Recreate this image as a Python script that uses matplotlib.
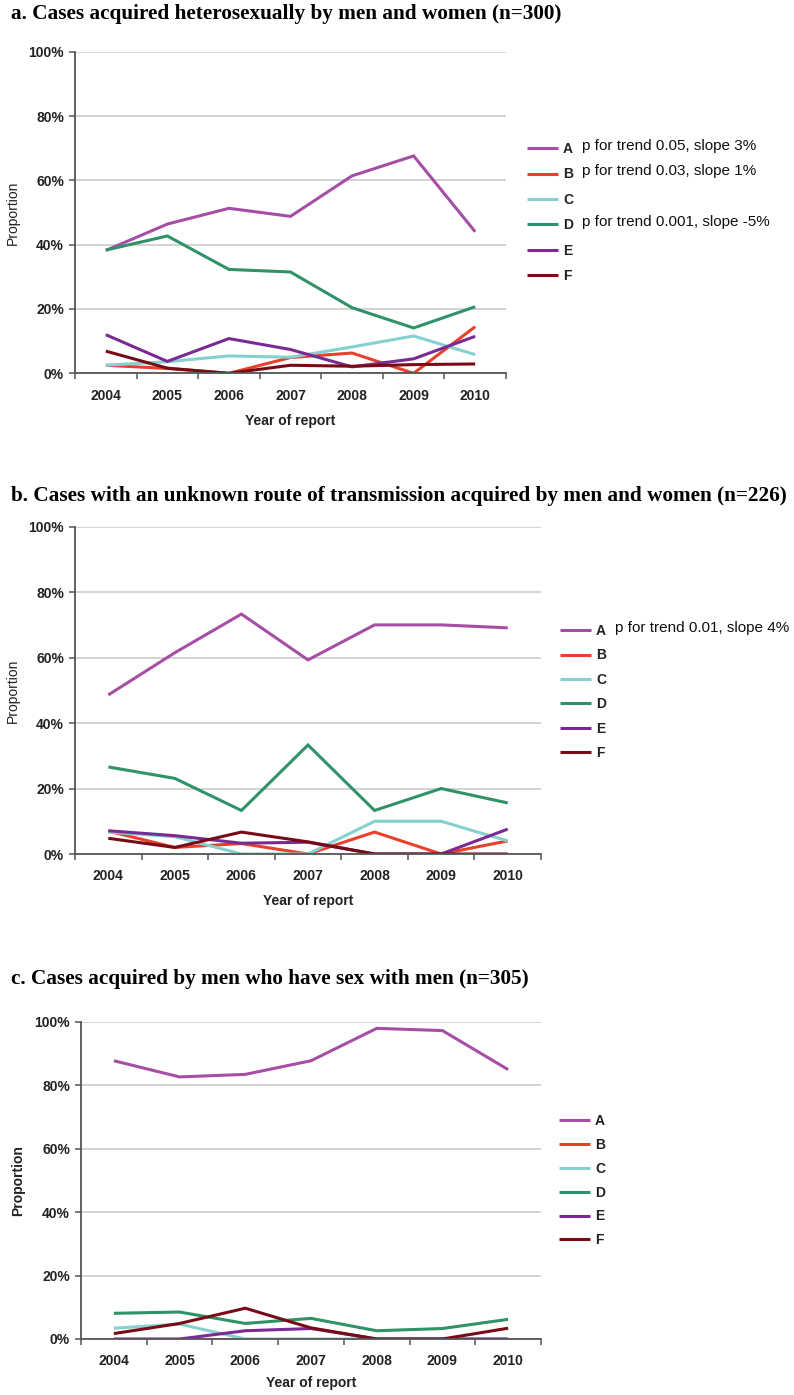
import matplotlib
matplotlib.use("Agg")
import matplotlib.pyplot as plt
from matplotlib.ticker import FixedLocator, PercentFormatter

years = ["2004", "2005", "2006", "2007", "2008", "2009", "2010"]
groups = ["A", "B", "C", "D", "E", "F"]
colors = ["#a64ea6", "#e8402d", "#86d0d0", "#2f9268", "#7a2a93", "#780c16"]

# panel a: heterosexual (n=300), proportions in %
het_A = [38.2, 46.4, 51.3, 48.8, 61.4, 67.6, 44.0]
het_B = [2.5, 1.5, 0.0, 4.9, 6.3, 0.0, 14.5]
het_C = [2.5, 3.6, 5.4, 5.0, 8.2, 11.6, 5.8]
het_D = [38.3, 42.7, 32.3, 31.5, 20.4, 14.1, 20.7]
het_E = [12.0, 3.7, 10.8, 7.4, 2.0, 4.5, 11.5]
het_F = [6.9, 1.6, 0.0, 2.5, 2.2, 2.7, 2.9]

# panel b: unknown route (n=226)
unk_A = [48.6, 61.5, 73.3, 59.3, 70.0, 70.0, 69.1]
unk_B = [7.0, 2.0, 3.2, 0.0, 6.7, 0.0, 4.0]
unk_C = [6.7, 5.3, 0.0, 0.0, 10.0, 10.0, 4.0]
unk_D = [26.6, 23.1, 13.3, 33.3, 13.3, 20.0, 15.6]
unk_E = [7.1, 5.6, 3.3, 3.6, 0.0, 0.0, 7.6]
unk_F = [4.8, 2.0, 6.7, 3.7, 0.0, 0.0, 0.0]

# panel c: MSM (n=305)
msm_A = [87.7, 82.6, 83.4, 87.7, 97.9, 97.2, 84.9]
msm_B = [0.0, 0.0, 0.0, 0.0, 0.0, 0.0, 0.0]
msm_C = [3.4, 4.7, 0.0, 0.0, 0.0, 0.0, 0.0]
msm_D = [8.1, 8.5, 4.9, 6.5, 2.6, 3.3, 6.2]
msm_E = [0.0, 0.0, 2.6, 3.3, 0.0, 0.0, 0.0]
msm_F = [1.7, 4.9, 9.7, 3.5, 0.0, 0.0, 3.4]

titles = [
    "a. Cases acquired heterosexually by men and women (n=300)",
    "b. Cases with an unknown route of transmission acquired by men and women (n=226)",
    "c. Cases acquired by men who have sex with men (n=305)",
]
notes = [
    {"A": "p for trend 0.05, slope 3%", "B": "p for trend 0.03, slope 1%",
     "D": "p for trend 0.001, slope -5%"},
    {"A": "p for trend 0.01, slope 4%"},
    {},
]

W, H = 794, 1395
fig = plt.figure(figsize=(W / 100, H / 100), dpi=100)
plt.rcParams["font.family"] = ["Liberation Sans", "DejaVu Sans"]

# pixel layout: (left, right, top, bottom, title_y, legend_x, legend_top, spacing, xlabel_top, ylabel_right, bold_ylabel)
layout = [
    (75, 506, 51.7, 373.3, 14, 527, 142, 0.82, 414, 20, False),
    (75, 541, 526.7, 854, 496, 560, 624, 0.75, 894, 20, False),
    (81, 541, 1021.7, 1339, 979, 559, 1114, 0.71, 1376, 25, True),
]
panels = [
    [het_A, het_B, het_C, het_D, het_E, het_F],
    [unk_A, unk_B, unk_C, unk_D, unk_E, unk_F],
    [msm_A, msm_B, msm_C, msm_D, msm_E, msm_F],
]

x = list(range(len(years)))
legends = []
for (l, r, t, b, ty, lx, lt, sp, xly, ylx, boldy), series, title in zip(layout, panels, titles):
    ax = fig.add_axes([l / W, 1 - b / H, (r - l) / W, (b - t) / H])
    for vals, c, g in zip(series, colors, groups):
        ax.plot(x, [v / 100 for v in vals], color=c, lw=2.2, label=g,
                solid_joinstyle="miter", solid_capstyle="butt")
    ax.set_xlim(-0.5, 6.5)
    ax.set_ylim(0, 1)
    ax.yaxis.set_major_locator(FixedLocator([0, 0.2, 0.4, 0.6, 0.8, 1.0]))
    ax.yaxis.set_major_formatter(PercentFormatter(1.0, decimals=0))
    ax.xaxis.set_major_locator(FixedLocator([i - 0.5 for i in range(8)]))
    ax.xaxis.set_major_formatter(plt.NullFormatter())
    ax.xaxis.set_minor_locator(FixedLocator(x))
    ax.set_xticklabels(years, minor=True)
    ax.tick_params(axis="x", which="major", length=4, width=1.1, color="#555555", direction="out")
    ax.tick_params(axis="x", which="minor", length=0, pad=11, labelsize=10)
    ax.tick_params(axis="y", length=4, width=1.1, color="#555555", pad=4, labelsize=10)
    for lab in ax.get_xticklabels(minor=True) + ax.get_yticklabels():
        lab.set_fontweight("bold")
        lab.set_color("#222222")
    ax.grid(axis="y", color="#c8c8c8", lw=1.1)
    ax.set_axisbelow(True)
    for s in ["top", "right"]:
        ax.spines[s].set_visible(False)
    for s in ["left", "bottom"]:
        ax.spines[s].set_color("#555555")
        ax.spines[s].set_linewidth(1.3)
    ax.set_xlabel("Year of report", fontsize=10, fontweight="bold", color="#222222")
    ax.xaxis.set_label_coords(0.5, -(xly - b) / (b - t))
    ax.set_ylabel("Proportion", fontsize=10, fontweight="bold" if boldy else "normal", color="#222222")
    ax.yaxis.set_label_coords((ylx - l) / (r - l), 0.5)

    fig.text(11 / W, 1 - ty / H, title, family="Liberation Serif", fontweight="bold",
             fontsize=15.3, va="center", ha="left")

    leg = ax.legend(loc="upper left", bbox_to_anchor=(lx / W, 1 - lt / H),
                    bbox_transform=fig.transFigure, frameon=False, borderpad=0,
                    borderaxespad=0, handlelength=2.2, handletextpad=0.4,
                    labelspacing=sp, prop={"weight": "bold", "size": 10})
    for txt in leg.get_texts():
        txt.set_color("#222222")
    legends.append(leg)

fig.canvas.draw()
for leg, note in zip(legends, notes):
    for txt in leg.get_texts():
        g = txt.get_text()
        if g in note:
            bb = txt.get_window_extent()
            fig.text((bb.x1 + 9) / W, (bb.y0 + bb.y1) / 2 / H + 3 / H, note[g],
                     fontsize=11, va="center", ha="left", color="#111111")

fig.savefig("out.png", dpi=100)
